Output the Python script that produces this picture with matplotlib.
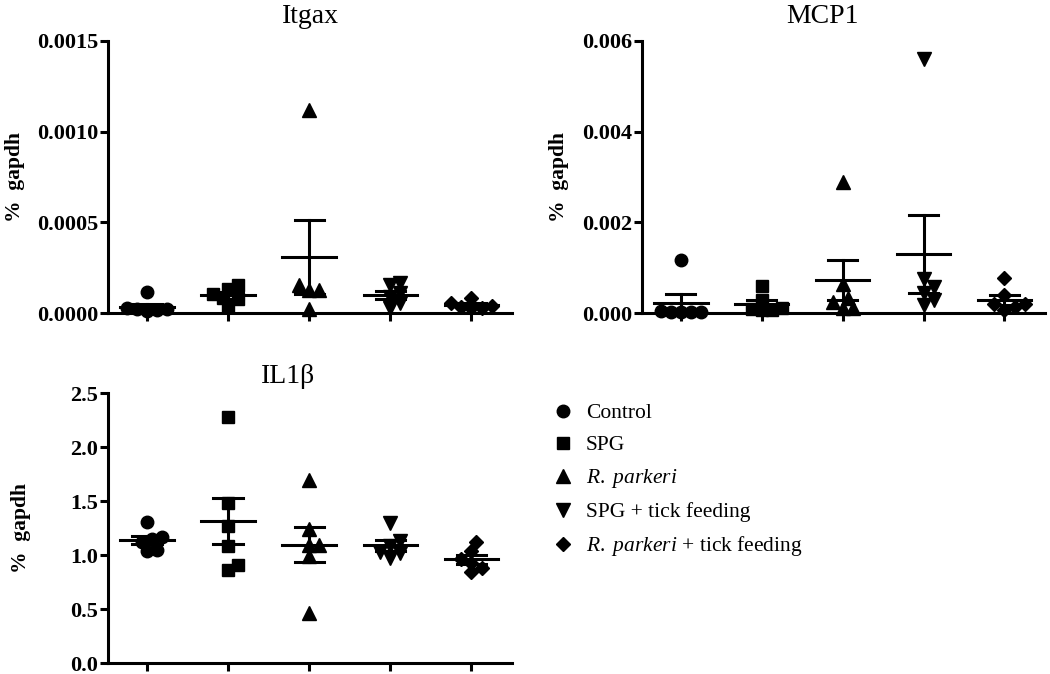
import numpy as np
import matplotlib
matplotlib.use("Agg")
import matplotlib.pyplot as plt
from matplotlib.lines import Line2D

plt.rcParams['font.family'] = ['Liberation Serif', 'DejaVu Serif']
plt.rcParams['mathtext.fontset'] = 'custom'
plt.rcParams['mathtext.rm'] = 'Liberation Serif'
plt.rcParams['mathtext.it'] = 'Liberation Serif:italic'

groups = ['Control', 'SPG', r'$\it{R.\ parkeri}$', 'SPG + tick feeding',
          r'$\it{R.\ parkeri}$ + tick feeding']
markers = ['o', 's', '^', 'v', 'D']
marker_sizes = [9, 9, 9.5, 9.5, 7]

# % gapdh values, one list per group
itgax = [
    [0.000116, 0.00002, 0.000015, 0.00002, 0.00001, 0.000025],
    [0.000132, 0.000154, 0.000083, 0.000105, 0.000033, 0.000077],
    [0.00112, 0.000125, 0.000152, 0.000125, 0.000024],
    [0.000165, 0.000154, 0.000088, 0.00011, 0.000028, 0.000055],
    [0.000055, 0.000083, 0.000028, 0.00004, 0.00003, 0.000035],
]
mcp1 = [
    [0.00118, 0.00003, 0.00002, 0.00004, 0.00003, 0.00002],
    [0.0006, 0.00029, 0.00012, 0.00008, 0.00006, 0.00007],
    [0.0029, 0.00065, 0.00024, 0.00033, 0.00012, 0.00012],
    [0.0056, 0.00075, 0.00045, 0.00058, 0.00018, 0.00028],
    [0.00077, 0.00039, 0.0002, 0.00013, 0.0002, 0.00006],
]
il1b = [
    [1.31, 1.17, 1.15, 1.05, 1.04, 1.12],
    [2.28, 1.48, 1.27, 1.08, 0.86, 0.91],
    [1.69, 1.24, 1.09, 1.09, 0.99, 0.46],
    [1.30, 1.13, 1.08, 0.97, 1.03, 1.02],
    [1.12, 1.04, 0.96, 0.93, 0.84, 0.88],
]

panels = [
    ('Itgax', itgax, [0.0, 0.0005, 0.0010, 0.0015], '%.4f',
     [0.1029, 0.5356, 0.3847, 0.4036], 0.5, 13, -0.205),
    ('MCP1', mcp1, [0.0, 0.002, 0.004, 0.006], '%.3f',
     [0.6114, 0.5356, 0.3838, 0.4036], 0.449, 13, -0.18),
    ('IL1\u03b2', il1b, [0.0, 0.5, 1.0, 1.5, 2.0, 2.5], '%.1f',
     [0.1029, 0.0163, 0.3847, 0.4006], 0.446, 7, -0.19),
]


def swarm_offsets(ax, x0, vals, diam_px):
    # simple beeswarm: spread points that would overlap, in pixel space
    ypx = ax.transData.transform(np.column_stack([np.full(len(vals), x0), vals]))[:, 1]
    order = np.argsort(vals)
    placed = []
    xs = np.zeros(len(vals))
    for i in order:
        for k in range(0, 30):
            for sgn in ([0] if k == 0 else [1, -1]):
                dx = sgn * k * diam_px * 0.42
                ok = all((dx - px) ** 2 + (ypx[i] - py) ** 2 >= (diam_px * 0.8) ** 2
                         for px, py in placed)
                if ok:
                    break
            if ok:
                break
        placed.append((dx, ypx[i]))
        xs[i] = dx
    x0px = ax.transData.transform((x0, 0))[0]
    return np.array([ax.transData.inverted().transform((x0px + d, 0))[0] for d in xs])


fig = plt.figure(figsize=(10.5, 6.74), dpi=100)

for title, data, ticks, fmt, pos, tx, tpad, labx in panels:
    ax = fig.add_axes(pos)
    ax.set_xlim(0.52, 5.5)
    ax.set_ylim(0, ticks[-1])
    ax.spines['top'].set_visible(False)
    ax.spines['right'].set_visible(False)
    for s in ['left', 'bottom']:
        ax.spines[s].set_linewidth(2.2)
    ax.set_xticks(range(1, 6))
    ax.set_xticklabels([])
    ax.set_yticks(ticks)
    ax.set_yticklabels([fmt % t for t in ticks], fontweight='bold', fontsize=16)
    ax.tick_params(axis='both', direction='out', length=6, width=2.2, pad=1)
    ax.set_title(title, fontsize=20, x=tx, pad=tpad)
    ax.set_ylabel('%  gapdh', fontsize=15.5, fontweight='bold')
    ax.yaxis.set_label_coords(labx, 0.5)

    for g, vals in enumerate(data):
        x0 = g + 1
        vals = np.array(vals)
        xs = swarm_offsets(ax, x0, vals, 12)
        ax.plot(xs, vals, linestyle='none', marker=markers[g], ms=marker_sizes[g],
                color='black', clip_on=False, zorder=3)
        m = vals.mean()
        sem = vals.std(ddof=1) / np.sqrt(len(vals))
        ax.plot([x0 - 0.33, x0 + 0.33], [m, m], color='black', lw=2.2, zorder=4)
        ax.plot([x0, x0], [m - sem, m + sem], color='black', lw=2.2, zorder=4)
        for e in (m - sem, m + sem):
            ax.plot([x0 - 0.18, x0 + 0.18], [e, e], color='black', lw=2.2, zorder=4)

handles = [Line2D([], [], linestyle='none', marker=mk, ms=ms, color='black')
           for mk, ms in zip(markers, marker_sizes)]
fig.legend(handles, groups, loc='upper left', bbox_to_anchor=(0.516, 0.418),
           frameon=False, fontsize=15.5, handlelength=1.0, handletextpad=0.55,
           labelspacing=0.56, borderpad=0)

fig.savefig('out.png', dpi=100)
